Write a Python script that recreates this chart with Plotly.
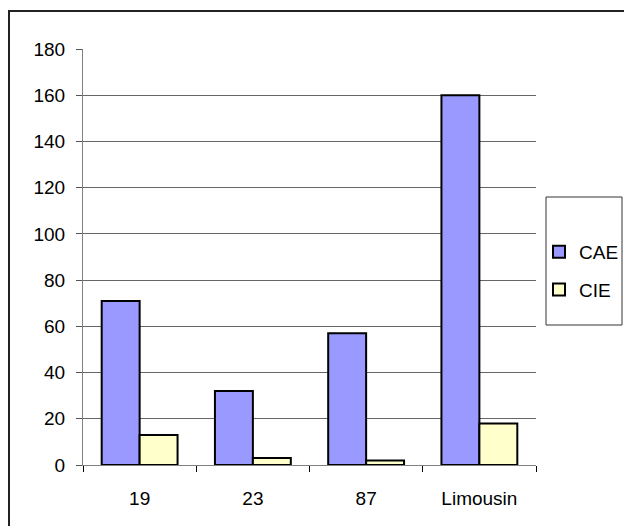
import plotly.graph_objects as go

categories = ["19", "23", "87", "Limousin"]
cae_values = [71, 32, 57, 160]
cie_values = [13, 3, 2, 18]
y_ticks = [0, 20, 40, 60, 80, 100, 120, 140, 160, 180]

W, H = 624, 526
# plot area in window pixel coords
L, R, T, B = 83, 536, 49, 465
pw, ph = R - L, B - T

def px(x):
    return (x - L) / pw

def py(y):
    return (B - y) / ph

FONT = "Liberation Sans, Arial, sans-serif"
FS = 19

fig = go.Figure()
fig.add_trace(go.Bar(
    name="CAE", x=categories, y=cae_values, legendgroup="a",
    marker=dict(color="#9999FF", line=dict(color="#000000", width=2)),
))
fig.add_trace(go.Bar(
    name="CIE", x=categories, y=cie_values, legendgroup="b",
    marker=dict(color="#FFFFCC", line=dict(color="#000000", width=2)),
))

fig.update_layout(
    width=W, height=H,
    margin=dict(l=L, r=W - R, t=T, b=H - B, pad=0, autoexpand=False),
    paper_bgcolor="white", plot_bgcolor="white",
    barmode="group", bargap=0.33, bargroupgap=0,
    font=dict(family=FONT, size=FS, color="#000000"),
    showlegend=True,
    legend=dict(
        x=px(539), y=py(233), xanchor="left", yanchor="top",
        bgcolor="rgba(0,0,0,0)", borderwidth=0,
        tracegroupgap=10, traceorder="grouped",
        font=dict(family=FONT, size=FS, color="#000000"),
    ),
    xaxis=dict(
        type="category", tickson="boundaries", ticks="outside", ticklen=6,
        tickcolor="#000000", showline=True, linecolor="#808080", linewidth=1,
        showgrid=False, ticklabelstandoff=16, fixedrange=True,
    ),
    yaxis=dict(
        range=[0, 180], tickvals=y_ticks, ticks="outside", ticklen=6,
        tickcolor="#555555", showline=True, linecolor="#808080", linewidth=1,
        showgrid=True, gridcolor="#666666", gridwidth=1, zeroline=False,
        ticklabelstandoff=7, fixedrange=True,
    ),
    shapes=[
        # outer chart border
        dict(type="rect", xref="paper", yref="paper",
             x0=px(9), x1=px(640), y0=py(540), y1=py(11),
             line=dict(color="#222222", width=2), fillcolor="rgba(0,0,0,0)"),
        # legend box
        dict(type="rect", xref="paper", yref="paper",
             x0=px(546), x1=px(622), y0=py(325), y1=py(197),
             line=dict(color="#333333", width=1), fillcolor="rgba(0,0,0,0)"),
    ],
)

fig.write_html(
    "out.html",
    config={"displayModeBar": False},
    post_script=(
        "document.body.style.margin='0';"
        "document.body.style.overflow='hidden';"
        "document.documentElement.style.overflow='hidden';"
    ),
)
